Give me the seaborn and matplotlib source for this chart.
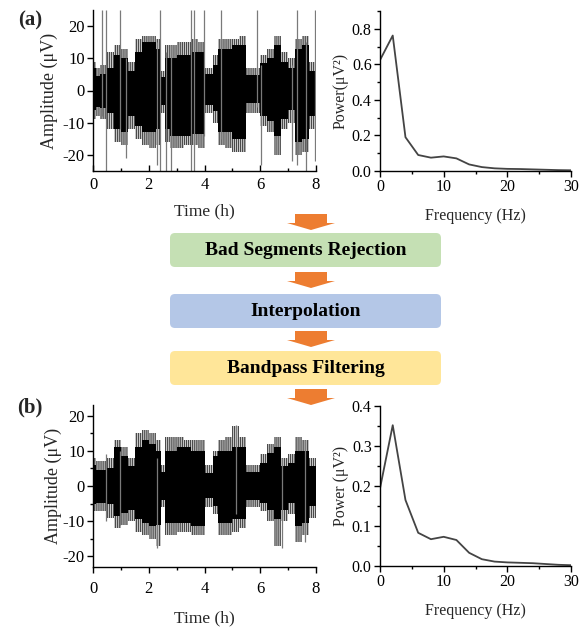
import numpy as np
import matplotlib
matplotlib.use('Agg')
import matplotlib.pyplot as plt
from matplotlib.patches import FancyBboxPatch, Polygon
from matplotlib.ticker import MultipleLocator
import pandas as pd
import seaborn as sns

# ---- data ----
# segment start times (h) of the EEG envelope, last segment ends at 8 h
seg_t = [0, 0.1, 0.25, 0.5, 0.75, 1.0, 1.25, 1.5, 1.75, 2.0, 2.25, 2.45, 2.6,
         2.75, 3.0, 3.25, 3.5, 3.75, 4.0, 4.3, 4.5, 4.75, 5.0, 5.25, 5.5, 6.0,
         6.25, 6.5, 6.75, 7.0, 7.25, 7.5, 7.75]

# (a) raw signal envelope (uV)
core_top_a = [7, 4.5, 5, 7, 11, 10, 6, 12, 15, 15, 13, 4.3, 10, 10, 11, 11, 12,
              12, 5, 8, 13, 13, 14, 14, 4.8, 8.5, 10, 14, 9, 7, 13, 14, 6]
core_bot_a = [-6, -5, -5.5, -7, -12, -13, -8, -11, -13, -13, -12, -4.6, -12, -14,
              -14, -14, -13.5, -13.5, -4.5, -6.5, -13, -13, -15, -15, -4, -8,
              -9.5, -14, -9, -6, -16, -15, -8]
peak_top_a = [9, 7, 8, 12, 14, 13, 9, 16, 17, 17, 16, 6, 14, 14, 15, 15, 16, 15,
              7, 11, 16, 16, 16, 17, 7, 11, 13, 17, 12, 10, 16, 17, 9]
peak_bot_a = [-9, -8, -9, -12, -16, -17, -12, -15, -17, -18, -17, -7, -16, -18,
              -18, -17, -17, -18, -7, -10, -17, -18, -19, -19, -7, -11, -13, -20,
              -12, -10, -20, -19, -12]
spike_t_a = [0.34, 0.48, 0.97, 1.18, 2.28, 2.39, 2.63, 2.81, 3.53, 3.63, 3.98,
             4.60, 5.89, 6.01, 7.13, 7.31, 7.63, 7.97]
spike_lo_a = [-8, -25, -12, -21, -23, -25, -25, -25, -25, -25, -14, -15, -5, -23,
              -22, -23, -25, -22]
spike_hi_a = [25, 25, 25, 10, 15, 25, 12, 14, 25, 25, 25, 25, 25, 8, 8, 25, 15, 25]

# (b) preprocessed signal envelope (uV)
core_top_b = [6, 4.5, 4.6, 5, 11, 8.4, 5.6, 11, 13, 12, 10, 4, 10, 10, 11, 11, 10,
              10, 3.7, 8.4, 10, 10, 11, 11, 4, 6.5, 9.3, 11, 5.6, 6.5, 10, 10, 5.6]
core_bot_b = [-5, -4.8, -4.8, -5, -8.6, -7.6, -6.7, -9.5, -10.5, -11.4, -11, -4,
              -10.5, -10.5, -10.5, -10.5, -11.4, -11.4, -3.4, -5.8, -10.5, -10.5,
              -9.5, -9.5, -4, -4.8, -6.7, -9.5, -6.7, -4.8, -11.4, -10.5, -5.8]
peak_top_b = [8, 7, 7, 8, 13, 11, 8, 15, 16, 15, 13, 6, 14, 14, 14, 13, 13, 13, 6,
              10, 13, 14, 17, 14, 6, 9, 12, 14, 8, 9, 14, 13, 8]
peak_bot_b = [-7, -7, -7, -9, -12, -11, -10, -13, -14, -15, -17, -6, -14, -14, -13,
              -13, -14, -14, -6, -8, -14, -14, -13, -12, -6, -7, -10, -17, -10, -8,
              -16, -14, -9]
spike_t_b = [0.48, 0.97, 2.30, 5.13, 6.77, 7.60]
spike_lo_b = [-10, -11, -17.5, -8, -17.5, -16]
spike_hi_b = [9, 10, 8, 17.4, 8, 13]

# power spectra
freq = [0, 2, 4, 6, 8, 10, 12, 14, 16, 18, 20, 22, 24, 26, 28, 30]
power_a = [0.624, 0.762, 0.19, 0.09, 0.075, 0.082, 0.071, 0.037, 0.022, 0.015,
           0.012, 0.011, 0.009, 0.007, 0.005, 0.004]
power_b = [0.194, 0.352, 0.165, 0.083, 0.067, 0.073, 0.065, 0.033, 0.017, 0.011,
           0.009, 0.008, 0.007, 0.005, 0.003, 0.002]

steps = ['Bad Segments Rejection', 'Interpolation', 'Bandpass Filtering']
step_colors = ['#c5e0b4', '#b4c7e7', '#ffe699']

sns.set_theme(style='ticks')
plt.rcParams['font.family'] = ['Liberation Serif', 'DejaVu Serif']
plt.rcParams['axes.unicode_minus'] = False
plt.rcParams['hatch.linewidth'] = 1.0

W, H = 587, 630
fig = plt.figure(figsize=(W / 100, H / 100), dpi=100)


def px_box(left, top, right, bottom):
    """pixel box -> figure fraction rect"""
    return [left / W, 1 - bottom / H, (right - left) / W, (bottom - top) / H]


def style_axes(ax, size=11.5):
    sns.despine(ax=ax)
    for s in ax.spines.values():
        s.set_linewidth(1.0)
        s.set_color('black')
    ax.tick_params(which='major', length=4, width=1.0, labelsize=size,
                   color='black', labelcolor='black', pad=2)
    ax.tick_params(which='minor', length=2.5, width=1.0, color='black')


def draw_trace(ax, top_c, bot_c, top_p, bot_p, sp_t, sp_lo, sp_hi):
    t = seg_t + [8]
    ext = lambda v: v + [v[-1]]
    # grey "grass" fringe, then the dense black core
    ax.fill_between(t, ext(bot_p), ext(top_p), step='post', facecolor='none',
                    edgecolor='#4a4a4a', hatch='||||||||', lw=0)
    ax.fill_between(t, ext(bot_c), ext(top_c), step='post', color='black', lw=0)
    ax.vlines(sp_t, sp_lo, sp_hi, color='#7a7a7a', lw=0.9)


# flow chart layer
ax0 = fig.add_axes([0, 0, 1, 1], zorder=0)
ax0.set_xlim(0, W)
ax0.set_ylim(H, 0)
ax0.axis('off')
box_tops = [233, 294, 351]
for top, label, col in zip(box_tops, steps, step_colors):
    ax0.add_patch(FancyBboxPatch((170, top), 271, 34,
                                 boxstyle='round,pad=0,rounding_size=5',
                                 fc=col, ec='none'))
    ax0.text(305.5, top + 17.5, label, ha='center', va='center',
             fontsize=14, fontweight='bold', color='black')
for y0 in [214, 272, 331, 389]:
    ax0.add_patch(Polygon([(295, y0), (327, y0), (327, y0 + 9), (335, y0 + 9),
                           (311, y0 + 16), (287, y0 + 9), (295, y0 + 9)],
                          closed=True, fc='#ed7d31', ec='none'))

# (a) raw time series
ax1 = fig.add_axes(px_box(93, 10, 316, 171))
draw_trace(ax1, core_top_a, core_bot_a, peak_top_a, peak_bot_a,
           spike_t_a, spike_lo_a, spike_hi_a)
ax1.set_xlim(0, 8)
ax1.set_ylim(-25, 25)
ax1.set_xticks([0, 2, 4, 6, 8])
ax1.xaxis.set_minor_locator(MultipleLocator(1))
ax1.set_yticks([-20, -10, 0, 10, 20])
style_axes(ax1, 12)
ax1.tick_params(axis='x', which='both', direction='in')
ax1.tick_params(axis='x', which='major', pad=4)
ax1.set_xlabel('Time (h)', fontsize=12.5, labelpad=8)
ax1.set_ylabel('Amplitude (μV)', fontsize=13, labelpad=3)

# (a) spectrum
ax2 = fig.add_axes(px_box(380, 11, 571, 171))
sns.lineplot(data=pd.DataFrame({'f': freq, 'p': power_a}), x='f', y='p',
             color='#444444', lw=1.3, ax=ax2)
ax2.set_xlim(0, 30)
ax2.set_ylim(0, 0.9)
ax2.set_xticks([0, 10, 20, 30])
ax2.xaxis.set_minor_locator(MultipleLocator(5))
ax2.set_yticks([0, 0.2, 0.4, 0.6, 0.8])
ax2.yaxis.set_minor_locator(MultipleLocator(0.1))
ax2.yaxis.set_major_formatter(matplotlib.ticker.FormatStrFormatter('%.1f'))
style_axes(ax2)
ax2.set_xlabel('Frequency (Hz)', fontsize=11.5, labelpad=9)
ax2.set_ylabel('Power(μV²)', fontsize=11.5, labelpad=2)

# (b) processed time series
ax3 = fig.add_axes(px_box(93, 405, 316, 567))
draw_trace(ax3, core_top_b, core_bot_b, peak_top_b, peak_bot_b,
           spike_t_b, spike_lo_b, spike_hi_b)
ax3.set_xlim(0, 8)
ax3.set_ylim(-23, 23)
ax3.set_xticks([0, 2, 4, 6, 8])
ax3.xaxis.set_minor_locator(MultipleLocator(1))
ax3.set_yticks([-20, -10, 0, 10, 20])
ax3.yaxis.set_minor_locator(MultipleLocator(5))
style_axes(ax3, 12)
ax3.tick_params(axis='x', which='major', pad=6)
ax3.set_xlabel('Time (h)', fontsize=12.5, labelpad=10)
ax3.set_ylabel('Amplitude (μV)', fontsize=13, labelpad=0)

# (b) spectrum
ax4 = fig.add_axes(px_box(380, 406, 571, 566))
sns.lineplot(data=pd.DataFrame({'f': freq, 'p': power_b}), x='f', y='p',
             color='#444444', lw=1.3, ax=ax4)
ax4.set_xlim(0, 30)
ax4.set_ylim(0, 0.4)
ax4.set_xticks([0, 10, 20, 30])
ax4.xaxis.set_minor_locator(MultipleLocator(5))
ax4.set_yticks([0, 0.1, 0.2, 0.3, 0.4])
ax4.yaxis.set_minor_locator(MultipleLocator(0.05))
ax4.yaxis.set_major_formatter(matplotlib.ticker.FormatStrFormatter('%.1f'))
style_axes(ax4)
ax4.set_xlabel('Frequency (Hz)', fontsize=11.5, labelpad=9)
ax4.set_ylabel('Power (μV²)', fontsize=11.5, labelpad=2)

fig.text(30 / W, 1 - 20 / H, '(a)', fontsize=15, fontweight='bold',
         ha='center', va='center')
fig.text(30 / W, 1 - 407 / H, '(b)', fontsize=15, fontweight='bold',
         ha='center', va='center')

fig.savefig('out.png', dpi=100)
